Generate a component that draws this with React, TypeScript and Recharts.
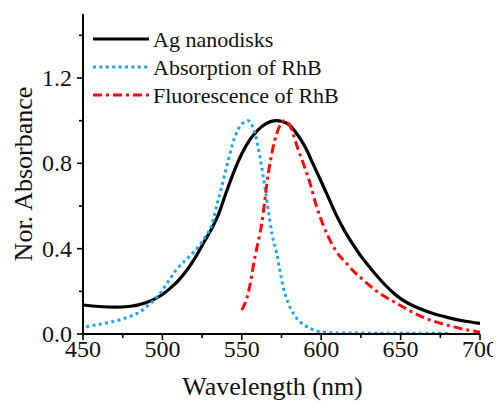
import React from 'react';
import { LineChart, Line, XAxis, YAxis, Legend } from 'recharts';

const agWavelength = [450, 460, 470, 480, 490, 500, 505, 510, 515, 520, 525, 530, 535, 540, 545, 550, 555, 560, 565, 570, 572, 575, 580, 585, 590, 595, 600, 605, 610, 615, 620, 625, 630, 635, 640, 645, 650, 655, 660, 665, 670, 680, 690, 700];
const agValues = [0.136, 0.129, 0.126, 0.13, 0.148, 0.185, 0.215, 0.25, 0.295, 0.35, 0.415, 0.48, 0.555, 0.66, 0.76, 0.845, 0.91, 0.955, 0.985, 0.999, 1.0, 0.997, 0.98, 0.935, 0.875, 0.795, 0.715, 0.632, 0.55, 0.48, 0.42, 0.365, 0.318, 0.273, 0.232, 0.196, 0.166, 0.143, 0.125, 0.11, 0.097, 0.077, 0.061, 0.05];

const absWavelength = [452, 460, 469, 478, 486, 492, 498.5, 504, 509, 514, 518, 522.6, 527, 531, 534.5, 538.4, 542, 545.7, 549, 552, 554, 556, 558.3, 562.5, 566.7, 569, 572, 576, 579, 582.4, 587, 593, 599, 610, 640, 680];
const absValues = [0.034, 0.045, 0.058, 0.078, 0.105, 0.14, 0.19, 0.25, 0.303, 0.342, 0.37, 0.409, 0.455, 0.51, 0.61, 0.722, 0.83, 0.925, 0.975, 0.995, 1.0, 0.985, 0.94, 0.784, 0.58, 0.47, 0.378, 0.222, 0.15, 0.097, 0.055, 0.027, 0.011, 0.005, 0.004, 0.004];

const fluWavelength = [550, 554, 558.3, 562.5, 566.7, 569, 572, 575, 577, 580, 585.6, 593, 597, 601.3, 605.5, 609.7, 616, 621, 626.5, 635, 647.5, 658, 668.5, 680, 690, 698, 700];
const fluValues = [0.112, 0.19, 0.362, 0.515, 0.753, 0.85, 0.94, 0.99, 1.0, 0.98, 0.863, 0.706, 0.6, 0.51, 0.44, 0.385, 0.331, 0.29, 0.253, 0.2, 0.144, 0.1, 0.066, 0.04, 0.022, 0.011, 0.008];

const seriesNames = ['Ag nanodisks', 'Absorption of RhB', 'Fluorescence of RhB'];

const xTicks = [450, 475, 500, 525, 550, 575, 600, 625, 650, 675, 700];
const xTickLabels = [450, 500, 550, 600, 650, 700];
const yTicks = [0, 0.2, 0.4, 0.6, 0.8, 1.0, 1.2, 1.4];
const yTickLabels = [0, 0.4, 0.8, 1.2];

const toPoints = (xs: number[], ys: number[]) => xs.map((x, i) => ({ x, y: ys[i] }));
const agData = toPoints(agWavelength, agValues);
const absData = toPoints(absWavelength, absValues);
const fluData = toPoints(fluWavelength, fluValues);

const FONT = "'Liberation Serif', 'DejaVu Serif', 'Times New Roman', Times, serif";
const textStyle = { fontFamily: FONT } as React.CSSProperties;
const BLACK = '#000000';
const BLUE = '#1ea5ec';
const RED = '#ff0a0a';
const BLUE_DASH = '3 3.4';
const RED_DASH = '9 4 3 4';

const XTick = (props: any) => {
  const { x, y, payload } = props;
  const major = xTickLabels.includes(payload.value);
  return (
    <g>
      <line x1={x} x2={x} y1={y} y2={y + (major ? 6 : 4)} stroke="#000" strokeWidth={1.6} />
      {major && (
        <text x={x} y={y + 23} textAnchor="middle" fontSize={24} fontFamily={FONT} style={textStyle} fill="#111">
          {payload.value}
        </text>
      )}
    </g>
  );
};

const YTick = (props: any) => {
  const { x, y, payload } = props;
  const major = yTickLabels.some((v) => Math.abs(v - payload.value) < 1e-6);
  return (
    <g>
      <line x1={x - (major ? 6 : 4)} x2={x} y1={y} y2={y} stroke="#000" strokeWidth={1.6} />
      {major && (
        <text x={x - 11} y={y + 8} textAnchor="end" fontSize={24} fontFamily={FONT} style={textStyle} fill="#111">
          {Number(payload.value).toFixed(1)}
        </text>
      )}
    </g>
  );
};

const XLabel = (props: any) => {
  const { viewBox } = props;
  return (
    <text x={viewBox.x + viewBox.width / 2 - 9} y={viewBox.y + 61} textAnchor="middle" fontSize={26} fontFamily={FONT} style={textStyle} fill="#111">
      Wavelength (nm)
    </text>
  );
};

const YLabel = (props: any) => {
  const { viewBox } = props;
  const cx = viewBox.x + 24;
  const cy = viewBox.y + viewBox.height / 2;
  return (
    <text x={cx} y={cy} transform={`rotate(-90 ${cx} ${cy})`} textAnchor="middle" fontSize={26} fontFamily={FONT} style={textStyle} fill="#111">
      Nor. Absorbance
    </text>
  );
};

const LegendContent = () => {
  const rows = [
    { name: seriesNames[0], color: BLACK, dash: undefined as string | undefined, w: 3.2 },
    { name: seriesNames[1], color: BLUE, dash: BLUE_DASH, w: 3 },
    { name: seriesNames[2], color: RED, dash: RED_DASH, w: 3 },
  ];
  return (
    <svg width={270} height={86} style={{ display: 'block' }}>
      {rows.map((r, i) => {
        const cy = 14 + i * 28;
        return (
          <g key={r.name}>
            <line x1={0} x2={56} y1={cy} y2={cy} stroke={r.color} strokeWidth={r.w} strokeDasharray={r.dash} />
            <text x={60} y={cy + 7.5} fontSize={22} fontFamily={FONT} style={textStyle} fill="#111">
              {r.name}
            </text>
          </g>
        );
      })}
    </svg>
  );
};

export default function App() {
  return (
    <div style={{ width: 493, height: 393, position: 'relative', fontFamily: FONT }}>
      <LineChart width={493} height={393} margin={{ top: 6, right: 21, left: 0, bottom: 0 }}>
        <XAxis
          type="number"
          dataKey="x"
          domain={[450, 700]}
          ticks={xTicks}
          interval={0}
          allowDataOverflow
          height={67}
          tickSize={0}
          tickMargin={0}
          tickLine={false}
          axisLine={{ stroke: '#000', strokeWidth: 2 }}
          tick={<XTick />}
          label={<XLabel />}
        />
        <XAxis
          xAxisId="top"
          orientation="top"
          type="number"
          domain={[450, 700]}
          height={0}
          tick={false}
          tickLine={false}
          axisLine={{ stroke: '#000', strokeWidth: 2 }}
        />
        <YAxis
          type="number"
          domain={[0, 1.5]}
          ticks={yTicks}
          interval={0}
          allowDataOverflow
          width={75}
          tickSize={0}
          tickMargin={0}
          tickLine={false}
          axisLine={{ stroke: '#000', strokeWidth: 2 }}
          tick={<YTick />}
          label={<YLabel />}
        />
        <YAxis
          yAxisId="right"
          orientation="right"
          type="number"
          domain={[0, 1.5]}
          width={0}
          tick={false}
          tickLine={false}
          axisLine={{ stroke: '#000', strokeWidth: 2 }}
        />
        <Line data={agData} dataKey="y" name={seriesNames[0]} type="monotone" stroke={BLACK} strokeWidth={3.2} dot={false} isAnimationActive={false} />
        <Line data={absData} dataKey="y" name={seriesNames[1]} type="monotone" stroke={BLUE} strokeWidth={3} strokeDasharray={BLUE_DASH} dot={false} isAnimationActive={false} />
        <Line data={fluData} dataKey="y" name={seriesNames[2]} type="monotone" stroke={RED} strokeWidth={3} strokeDasharray={RED_DASH} dot={false} isAnimationActive={false} />
        <Legend
          layout="vertical"
          align="center"
          verticalAlign="middle"
          content={<LegendContent />}
          wrapperStyle={{ position: 'absolute', left: 85, top: 17, width: 270, height: 86 }}
        />
      </LineChart>
    </div>
  );
}
